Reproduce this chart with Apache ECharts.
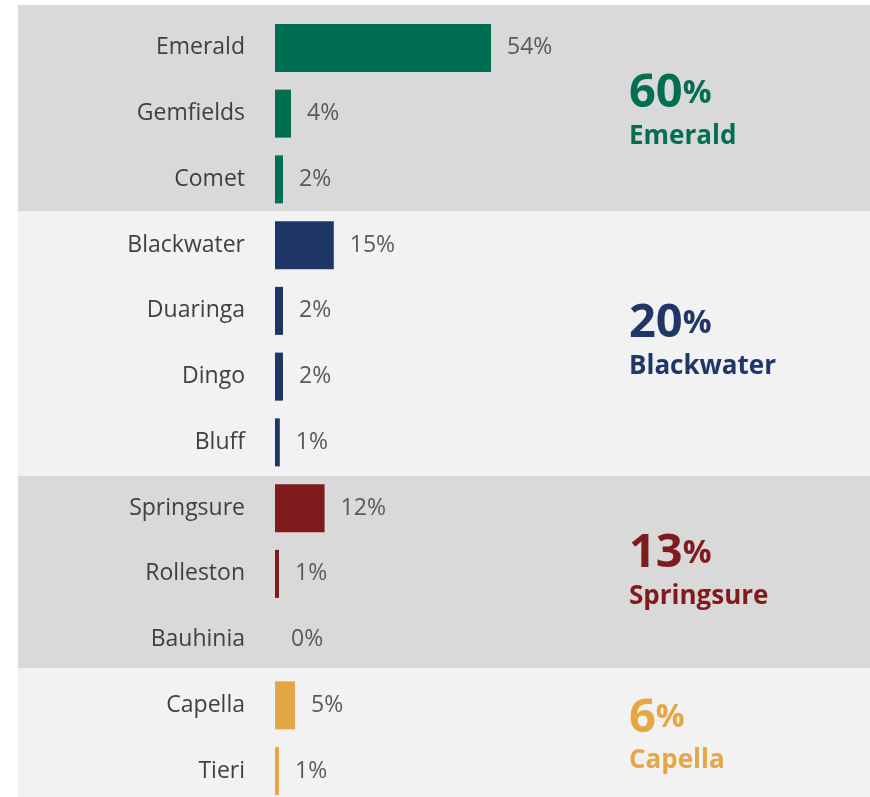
<!DOCTYPE html>
<html>
<head>
<meta charset="utf-8">
<script src="https://cdn.jsdelivr.net/npm/echarts@6/dist/echarts.min.js"></script>
<style>
  html, body { margin: 0; padding: 0; background: #fff; }
  #chart { width: 870px; height: 797px; }
</style>
</head>
<body>
<div id="chart"></div>
<script>
// sites, top to bottom
const sites = ['Emerald', 'Gemfields', 'Comet', 'Blackwater', 'Duaringa', 'Dingo', 'Bluff',
  'Springsure', 'Rolleston', 'Bauhinia', 'Capella', 'Tieri']
const shares = [54, 4, 2, 14.7, 2, 2, 1.2, 12.4, 1, 0, 5, 1]
const siteGroup = [0, 0, 0, 1, 1, 1, 1, 2, 2, 2, 3, 3]

const groupNames = ['Emerald', 'Blackwater', 'Springsure', 'Capella']
const groupTotals = [60, 20, 13, 6]
const groupColors = ['#006f51', '#1f3667', '#7f1b1d', '#e5a646']
const bandColors = ['#d9d9d9', '#f2f2f2', '#d9d9d9', '#f2f2f2']
// background band edges (px)
const bandEdges = [5, 211, 476, 668, 797]

const font = '"Open Sans", "DejaVu Sans", sans-serif'

const chart = echarts.init(document.getElementById('chart'))

const option = {
  backgroundColor: '#fff',
  animation: false,
  grid: { left: 275, width: 400, top: 15, height: 789, outerBoundsMode: 'none', containLabel: false },
  xAxis: { type: 'value', min: 0, max: 100, show: false },
  yAxis: {
    type: 'category', data: sites, inverse: true,
    axisLine: { show: false }, axisTick: { show: false }, splitLine: { show: false },
    axisLabel: { margin: 30, color: '#404040', fontSize: 23, fontFamily: font }
  },
  series: [{
    type: 'bar',
    barWidth: 48,
    data: shares.map((v, i) => ({ value: v, itemStyle: { color: groupColors[siteGroup[i]] } })),
    label: {
      show: true, position: 'right', distance: 16,
      color: '#595959', fontSize: 23, fontFamily: font,
      formatter: p => Math.round(p.value) + '%'
    }
  }]
}
chart.setOption(option)

// bands + group totals
const graphics = []
for (let g = 0; g < groupNames.length; g++) {
  graphics.push({
    type: 'rect', z: -10,
    shape: { x: 18, y: bandEdges[g], width: 852, height: bandEdges[g + 1] - bandEdges[g] },
    style: { fill: bandColors[g] }
  })
}
for (let g = 0; g < groupNames.length; g++) {
  const idx = siteGroup.map((s, i) => s === g ? i : -1).filter(i => i >= 0)
  const y0 = chart.convertToPixel({ yAxisIndex: 0 }, idx[0])
  const y1 = chart.convertToPixel({ yAxisIndex: 0 }, idx[idx.length - 1])
  const cy = (y0 + y1) / 2
  graphics.push({
    type: 'text', x: 629, y: cy - 20,
    style: {
      text: '{n|' + groupTotals[g] + '}{p|%}',
      verticalAlign: 'middle', align: 'left',
      rich: {
        n: { fontSize: 47, fontWeight: 'bold', fontFamily: font, fill: groupColors[g] },
        p: { fontSize: 32, fontWeight: 'bold', fontFamily: font, fill: groupColors[g] }
      }
    }
  })
  graphics.push({
    type: 'text', x: 629, y: cy + 22.5,
    style: {
      text: groupNames[g], verticalAlign: 'middle', align: 'left',
      font: 'bold 26px ' + font, fill: groupColors[g]
    }
  })
}
chart.setOption({ graphic: graphics })
</script>
</body>
</html>
